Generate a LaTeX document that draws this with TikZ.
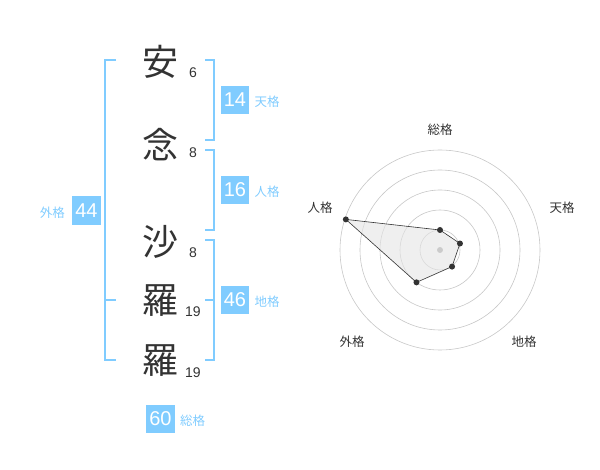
\documentclass[tikz,border=0pt]{standalone}
\usepackage{fontspec}
\setmainfont{Liberation Sans}
\newfontfamily\jp{Noto Sans CJK JP}
\usetikzlibrary{positioning}
\definecolor{kaku}{HTML}{80CCFF}
\definecolor{ink}{HTML}{333333}

\begin{document}
\begin{tikzpicture}[x=1pt, y=-1pt,
	kanji/.style={font=\jp\fontsize{36}{36}\selectfont, text=ink, inner sep=0pt},
	strokes/.style={font=\fontsize{14}{14}\selectfont, text=ink, inner sep=0pt},
	score/.style={fill=kaku, text=white, font=\fontsize{20}{20}\selectfont, minimum width=28.5pt, minimum height=28.5pt, inner sep=0pt},
	kakulabel/.style={font=\jp\fontsize{12.5}{12.5}\selectfont, text=kaku, inner sep=0pt},
	bracket/.style={kaku, line width=2pt},
	axislabel/.style={font=\jp\fontsize{12.5}{12.5}\selectfont, text=ink, inner sep=0pt},
	ring/.style={black!22, line width=0.6pt},
	dot/.style={circle, fill=ink, inner sep=0pt, minimum size=6pt}]
	\useasboundingbox (0,0) rectangle (600,470);
	
	% name
	\node[kanji] (k1) at (160,62) {安};
	\node[kanji] (k2) at (160,145) {念};
	\node[kanji] (k3) at (160,242) {沙};
	\node[kanji] (k4) at (160,301) {羅};
	\node[kanji] (k5) at (160,361) {羅};
	
	\node[strokes] (n1) at (193,73) {6};
	\node[strokes] (n2) at (193,153) {8};
	\node[strokes] (n3) at (193,253) {8};
	\node[strokes] (n4) at (193,312) {19};
	\node[strokes] (n5) at (193,373) {19};
	
	% brackets
	\coordinate (gt) at (105,60);
	\coordinate (gm) at (105,300);
	\coordinate (gb) at (105,360);
	\draw[bracket] ([xshift=11pt]gt) -- (gt) -- (gb) -- ([xshift=11pt]gb);
	\draw[bracket] (gm) -- ([xshift=11pt]gm);
	
	\coordinate (tt) at (214,60);
	\coordinate (tb) at (214,140);
	\coordinate (jt) at (214,150);
	\coordinate (jb) at (214,230);
	\coordinate (ct) at (214,240);
	\coordinate (cm) at (214,300);
	\coordinate (cb) at (214,360);
	\draw[bracket] ([xshift=-9pt]tt) -- (tt) -- (tb) -- ([xshift=-9pt]tb);
	\draw[bracket] ([xshift=-9pt]jt) -- (jt) -- (jb) -- ([xshift=-9pt]jb);
	\draw[bracket] ([xshift=-9pt]ct) -- (ct) -- (cb) -- ([xshift=-9pt]cb);
	\draw[bracket] ([xshift=-9pt]cm) -- (cm);
	
	% scores
	\node[score] (s14) at (235,100) {14};
	\node[score] (s16) at (235,190) {16};
	\node[score] (s46) at (235,300) {46};
	\node[score] (s44) at (86.5,210.5) {44};
	\node[score] (s60) at (160.5,419) {60};
	
	\node[kakulabel, right=5pt of s14.base east, anchor=base west] (l14) {天格};
	\node[kakulabel, right=5pt of s16.base east, anchor=base west] (l16) {人格};
	\node[kakulabel, right=5pt of s46.base east, anchor=base west] (l46) {地格};
	\node[kakulabel, right=5pt of s60.base east, anchor=base west] (l60) {総格};
	\node[kakulabel, left=7pt of s44.base west, anchor=base east] (l44) {外格};
	
	% radar
	\begin{scope}[shift={(440,250)}, y=1pt]
		\foreach \r in {20,40,...,100}
			\draw[ring] (0,0) circle (\r pt);
		\fill[black!35] (0,0) circle (3pt);
		
		\foreach \name/\ang/\r in {sou/90/20, ten/18/21, chi/-54/20.5, gai/-126/40, jin/162/99}
			\coordinate (\name) at (\ang:\r pt);
		
		\draw[fill=black!10, fill opacity=0.6, draw=ink, line width=0.6pt] (sou) -- (ten) -- (chi) -- (gai) -- (jin) -- cycle;
		\foreach \name in {sou,ten,chi,gai,jin}
			\node[dot] at (\name) {};
		
		\node[axislabel] (a1) at (0,120) {総格};
		\node[axislabel] (a2) at (122,42) {天格};
		\node[axislabel] (a3) at (-120,42) {人格};
		\node[axislabel] (a4) at (-88,-92) {外格};
		\node[axislabel] (a5) at (84,-92) {地格};
	\end{scope}
\end{tikzpicture}
\end{document}
